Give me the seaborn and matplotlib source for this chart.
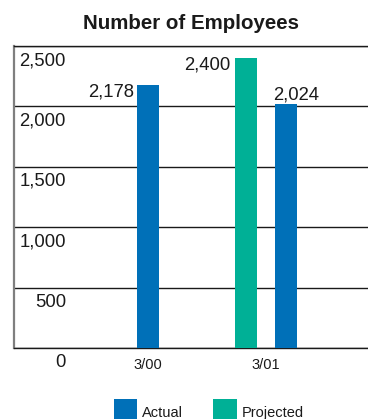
import matplotlib
matplotlib.use("Agg")
import matplotlib.pyplot as plt
import matplotlib.transforms as mtransforms
import pandas as pd
import seaborn as sns

# ---- data -------------------------------------------------------------
title = "Number of Employees"
categories = ["3/00", "3/01"]
series_names = ["Actual", "Projected"]
actual = [2178, 2024]
projected = [None, 2400]
y_ticks = [0, 500, 1000, 1500, 2000, 2500]
y_tick_labels = ["0", "500", "1,000", "1,500", "2,000", "2,500"]
value_labels = {("3/00", "Actual"): "2,178",
                ("3/01", "Projected"): "2,400",
                ("3/01", "Actual"): "2,024"}

# ---- style --------------------------------------------------------------
colors = {"Actual": "#0070b8", "Projected": "#00b096"}
text_color = "#1a1a1a"
step = 0.34        # distance between bar centres within one date
bar_w = 0.186      # bar width in category units

sns.set_theme(style="white")
plt.rcParams["font.family"] = ["Liberation Sans", "DejaVu Sans"]

# bars of one date sit side by side, projected first, centred on the date
rows = []
for i, cat in enumerate(categories):
    present = [(s, v) for s, v in (("Projected", projected[i]), ("Actual", actual[i]))
               if v is not None]
    n = len(present)
    for j, (s, v) in enumerate(present):
        rows.append({"pos": i + (j - (n - 1) / 2) * step, "series": s,
                     "value": v, "category": cat})
df = pd.DataFrame(rows)

W, H = 368, 419
fig = plt.figure(figsize=(W / 100, H / 100), dpi=100)
ax = fig.add_axes([14 / W, 71 / H, 354 / W, 302 / H])

sns.barplot(data=df, x="pos", y="value", hue="series", hue_order=series_names,
            palette=colors, native_scale=True, dodge=False, errorbar=None,
            width=bar_w / step, saturation=1, linewidth=0, ax=ax, zorder=3)

ax.set_xlim(-1.136, 1.864)
ax.set_ylim(y_ticks[0], y_ticks[-1])
ax.set_xlabel("")
ax.set_ylabel("")

# horizontal rules at each step
ax.set_yticks(y_ticks)
ax.tick_params(axis="y", left=False, labelleft=False)
ax.yaxis.grid(True, color="#1a1a1a", linewidth=1.0)
ax.set_axisbelow(True)

ax.set_xticks(range(len(categories)), categories)
ax.tick_params(axis="x", bottom=False, pad=1.5, labelsize=10.5, labelcolor=text_color)

ax.spines["right"].set_visible(False)
ax.spines["left"].set_color("#7f7f7f")
ax.spines["left"].set_linewidth(1.6)
for side in ("top", "bottom"):
    ax.spines[side].set_color("#1a1a1a")
    ax.spines[side].set_linewidth(1.0)

# value axis labels sit just below each rule
blend = mtransforms.blended_transform_factory(ax.transAxes, ax.transData)
for v, lab in zip(y_ticks, y_tick_labels):
    ax.annotate(lab, xy=(52 / 354, v), xycoords=blend, xytext=(0, -6),
                textcoords="offset pixels", ha="right", va="top",
                fontsize=13.3, color=text_color, annotation_clip=False)

# bar value labels
placement = {("3/00", "Actual"): ("right", "top", -3, 1),
             ("3/01", "Projected"): ("right", "top", -5, 2),
             ("3/01", "Actual"): ("left", "bottom", -2, 0)}
for _, r in df.iterrows():
    key = (r["category"], r["series"])
    ha, va, dx, dy = placement[key]
    ax.annotate(value_labels[key], xy=(r["pos"] - bar_w / 2, r["value"]),
                xytext=(dx, dy), textcoords="offset pixels", ha=ha, va=va,
                fontsize=13.3, color=text_color, zorder=4)

ax.set_title(title, fontsize=14.8, fontweight="bold", color=text_color, pad=12)

handles, labels = ax.get_legend_handles_labels()
if ax.get_legend() is not None:
    ax.get_legend().remove()
fig.legend(handles, labels, loc="upper left", bbox_to_anchor=(114 / W, 1 - 399 / H),
           frameon=False, fontsize=10.5, handlelength=1.6, handleheight=2.4,
           handletextpad=0.35, columnspacing=2.05, ncol=2, borderpad=0,
           borderaxespad=0, labelcolor=text_color)

fig.savefig("out.png", dpi=100)
